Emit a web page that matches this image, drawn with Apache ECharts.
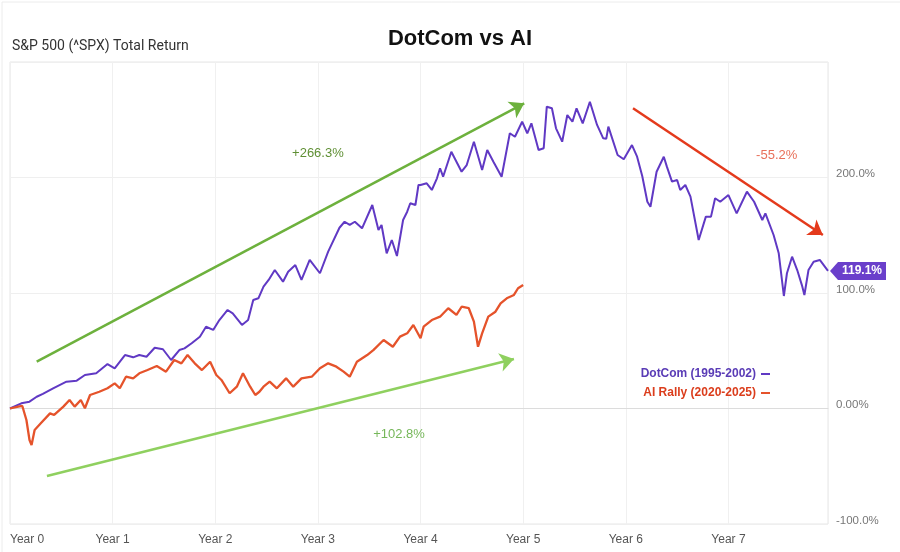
<!DOCTYPE html>
<html>
<head>
<meta charset="utf-8">
<script src="https://cdn.jsdelivr.net/npm/echarts@6/dist/echarts.min.js"></script>
<style>
  html, body { margin: 0; padding: 0; background: #fff; }
  #chart { width: 900px; height: 552px; }
</style>
</head>
<body>
<div id="chart"></div>
<script>
// Values. x = years since start of each rally, y = total return in %.
const dotcomYears = [
  0.00, 0.11, 0.19, 0.26, 0.32, 0.42, 0.55, 0.65, 0.73, 0.84, 0.95, 1.02, 1.12, 1.20, 1.26, 1.33,
  1.41, 1.49, 1.57, 1.65, 1.70, 1.77, 1.85, 1.91, 1.98, 2.04, 2.12, 2.17, 2.26, 2.32, 2.37, 2.42,
  2.47, 2.52, 2.58, 2.66, 2.71, 2.78, 2.84, 2.92, 3.02, 3.10, 3.21, 3.26, 3.31, 3.36, 3.43, 3.53,
  3.59, 3.62, 3.67, 3.72, 3.77, 3.83, 3.87, 3.90, 3.95, 3.98, 4.00, 4.06, 4.11, 4.16, 4.19, 4.22,
  4.30, 4.35, 4.40, 4.45, 4.52, 4.60, 4.65, 4.71, 4.79, 4.87, 4.92, 4.99, 5.04, 5.08, 5.15, 5.20,
  5.23, 5.28, 5.32, 5.38, 5.43, 5.48, 5.52, 5.58, 5.65, 5.72, 5.78, 5.81, 5.83, 5.92, 5.98, 6.06,
  6.11, 6.16, 6.21, 6.24, 6.30, 6.37, 6.40, 6.45, 6.50, 6.53, 6.58, 6.63, 6.71, 6.78, 6.83, 6.87,
  6.92, 7.00, 7.08, 7.18, 7.25, 7.33, 7.36, 7.44, 7.49, 7.54, 7.57, 7.62, 7.67, 7.72, 7.74, 7.78,
  7.83, 7.89, 7.97
];
const dotcomReturns = [
  0.0, 4.5, 5.9, 10.2, 12.6, 17.5, 23.2, 24.1, 29.0, 30.5, 38.5, 34.8, 46.3, 44.3, 46.3, 44.8,
  52.6, 51.3, 42.0, 50.6, 52.1, 56.5, 62.2, 70.8, 68.0, 76.6, 85.3, 82.4, 72.3, 76.6, 93.9, 95.4,
  105.5, 111.3, 119.9, 109.8, 118.4, 124.2, 111.3, 128.6, 117.1, 135.8, 156.5, 161.7, 159.0, 161.7, 156.0, 176.2,
  154.5, 158.9, 134.4, 145.9, 132.0, 163.2, 170.4, 177.7, 176.2, 193.5, 193.5, 195.0, 189.2, 199.3, 208.0, 200.7,
  222.3, 213.7, 205.0, 210.8, 231.0, 206.5, 223.8, 213.7, 200.7, 238.3, 235.3, 248.3, 238.3, 246.9, 223.8, 225.3,
  261.3, 259.9, 242.6, 231.0, 254.1, 248.3, 259.9, 246.9, 265.6, 245.5, 233.9, 233.6, 244.0, 219.5, 215.8, 228.1,
  218.0, 201.3, 179.0, 174.7, 205.0, 218.0, 209.4, 196.4, 197.8, 189.2, 193.5, 183.4, 145.9, 166.1, 166.1, 182.0,
  179.0, 184.8, 169.0, 187.7, 179.0, 163.2, 169.0, 150.2, 134.4, 97.4, 117.1, 131.4, 119.9, 105.5, 98.3, 119.9,
  127.1, 128.6, 119.1
];
const aiYears = [
  0.00, 0.08, 0.12, 0.16, 0.19, 0.21, 0.24, 0.30, 0.39, 0.43, 0.52, 0.58, 0.63, 0.69, 0.73, 0.78,
  0.87, 0.95, 1.02, 1.07, 1.13, 1.20, 1.26, 1.34, 1.43, 1.52, 1.60, 1.67, 1.73, 1.80, 1.87, 1.95,
  2.01, 2.06, 2.14, 2.21, 2.27, 2.34, 2.39, 2.43, 2.47, 2.53, 2.60, 2.69, 2.76, 2.84, 2.94, 3.02,
  3.10, 3.18, 3.25, 3.31, 3.38, 3.48, 3.54, 3.64, 3.73, 3.80, 3.87, 3.93, 4.00, 4.03, 4.11, 4.19,
  4.27, 4.35, 4.40, 4.47, 4.52, 4.56, 4.60, 4.66, 4.73, 4.78, 4.84, 4.91, 4.95, 5.00
];
const aiReturns = [
  0.0, 1.6, 2.2, -10.0, -27.3, -31.6, -18.6, -12.8, -4.2, -5.6, 1.6, 7.4, 1.6, 7.4, 0.2, 11.7,
  14.5, 17.5, 21.8, 17.5, 27.5, 26.1, 30.5, 33.3, 36.8, 31.9, 42.0, 39.1, 46.3, 39.1, 33.3, 40.5,
  29.0, 24.7, 13.2, 18.9, 30.5, 18.9, 11.7, 14.5, 18.9, 23.2, 17.5, 26.1, 18.9, 26.1, 27.5, 34.8,
  39.1, 36.2, 31.9, 27.5, 40.5, 46.3, 50.6, 59.3, 53.5, 62.2, 65.1, 72.3, 60.8, 70.8, 76.6, 79.5,
  86.8, 81.0, 88.1, 86.8, 75.2, 53.5, 65.1, 79.5, 83.8, 91.1, 95.4, 98.3, 104.1, 106.9
];
const yearLabels = ['Year 0', 'Year 1', 'Year 2', 'Year 3', 'Year 4', 'Year 5', 'Year 6', 'Year 7'];
const seriesNames = ['DotCom (1995-2002)', 'AI Rally (2020-2025)'];
const moveLabels = ['+266.3%', '+102.8%', '-55.2%'];
const lastDotcom = '119.1%';

const PURPLE = '#6039c4';
const ORANGE = '#e5532b';

const zip = (xs, ys) => xs.map((x, i) => [x, ys[i]]);

const chart = echarts.init(document.getElementById('chart'), null, { renderer: 'canvas' });

// annotation arrows + their captions, placed in data space so they follow the axes
function arrow(from, to, color) {
  return [
    { coord: from, lineStyle: { color: color, width: 2.5, type: 'solid' } },
    { coord: to },
  ];
}
function caption(coord, text, color) {
  return {
    coord: coord, value: text, symbol: 'circle', symbolSize: 1,
    itemStyle: { color: 'rgba(0,0,0,0)' },
    label: {
      show: true, position: 'inside', formatter: text, color: color,
      fontSize: 13, fontFamily: 'Liberation Sans',
    },
  };
}

chart.setOption({
  animation: false,
  graphic: [
    { type: 'rect', shape: { x: 2, y: 2, width: 1000, height: 600 }, style: { fill: 'none', stroke: '#ececec' }, silent: true },
  ],
  title: [
    {
      text: 'DotCom vs AI', left: 460, top: 28, textAlign: 'center', padding: 0,
      textStyle: { fontSize: 22, fontWeight: 'bold', color: '#111', fontFamily: 'Liberation Sans' },
    },
    {
      text: 'S&P 500 (^SPX) Total Return', left: 12, top: 39, padding: 0,
      textStyle: { fontSize: 14, fontWeight: 'normal', color: '#333', fontFamily: 'Roboto' },
    },
  ],
  legend: {
    orient: 'vertical', right: 125, top: 363, align: 'right',
    icon: 'rect', itemWidth: 9, itemHeight: 2, itemGap: 7,
    textStyle: { fontSize: 12, fontWeight: 'bold', fontFamily: 'Liberation Sans' },
    data: [
      { name: seriesNames[0], textStyle: { color: '#5a3cb6' } },
      { name: seriesNames[1], textStyle: { color: '#db3d1c' } },
    ],
  },
  grid: { left: 10, right: 72, top: 62, bottom: 28, show: true, borderColor: '#e6e6e6', borderWidth: 1 },
  xAxis: {
    type: 'value', min: 0, max: 7.97, interval: 1,
    axisLine: { show: true, lineStyle: { color: '#dcdcdc' } },
    axisTick: { show: false },
    splitLine: { show: true, lineStyle: { color: '#f0f0f0' } },
    axisLabel: {
      color: '#555', fontSize: 12, fontFamily: 'Liberation Sans', margin: 10,
      alignMinLabel: 'left', showMaxLabel: false,
      formatter: (v) => (Number.isInteger(v) ? yearLabels[v] : ''),
    },
  },
  yAxis: {
    type: 'value', position: 'right', min: -100, max: 300, interval: 100,
    axisLine: { show: false }, axisTick: { show: false },
    splitLine: { lineStyle: { color: '#efefef' } },
    axisLabel: {
      color: '#777', fontSize: 11.5, fontFamily: 'Liberation Sans', margin: 8,
      verticalAlign: 'bottom', lineHeight: 7,
      formatter: (v) => (v === 300 ? '' : v === 0 ? '0.00%' : v.toFixed(1) + '%'),
    },
  },
  series: [
    {
      name: seriesNames[0], type: 'line', data: zip(dotcomYears, dotcomReturns),
      showSymbol: false, symbol: 'none', color: PURPLE, lineStyle: { width: 2, color: PURPLE },
      markPoint: {
        silent: true,
        data: [{
          coord: [dotcomYears[dotcomYears.length - 1], dotcomReturns[dotcomReturns.length - 1]],
          symbol: 'path://M0,9 L8,0 L56,0 L56,18 L8,18 Z', symbolSize: [56, 18], symbolOffset: [30, 0],
          itemStyle: { color: '#6a3fcb' },
          label: {
            show: true, position: 'inside', offset: [4, 0], formatter: lastDotcom,
            color: '#fff', fontWeight: 'bold', fontSize: 12, fontFamily: 'Liberation Sans',
          },
        }],
      },
      markLine: {
        silent: true, symbol: ['none', 'arrow'], symbolSize: 14,
        label: { show: false },
        data: [
          arrow([0.26, 40.5], [5.01, 264.2], '#6db13d'),
          arrow([0.36, -58.4], [4.91, 42.9], '#8fd05f'),
          arrow([6.07, 259.9], [7.92, 150.2], '#e43a1c'),
        ],
      },
    },
    {
      name: seriesNames[1], type: 'line', data: zip(aiYears, aiReturns),
      showSymbol: false, symbol: 'none', color: ORANGE, lineStyle: { width: 2.3, color: ORANGE },
      markPoint: {
        silent: true,
        data: [
          caption([3.0, 220.5], moveLabels[0], '#5f8f34'),
          caption([3.79, -22.5], moveLabels[1], '#76b75a'),
          caption([7.47, 219.5], moveLabels[2], '#e8705a'),
        ],
      },
    },
  ],
});
</script>
</body>
</html>
